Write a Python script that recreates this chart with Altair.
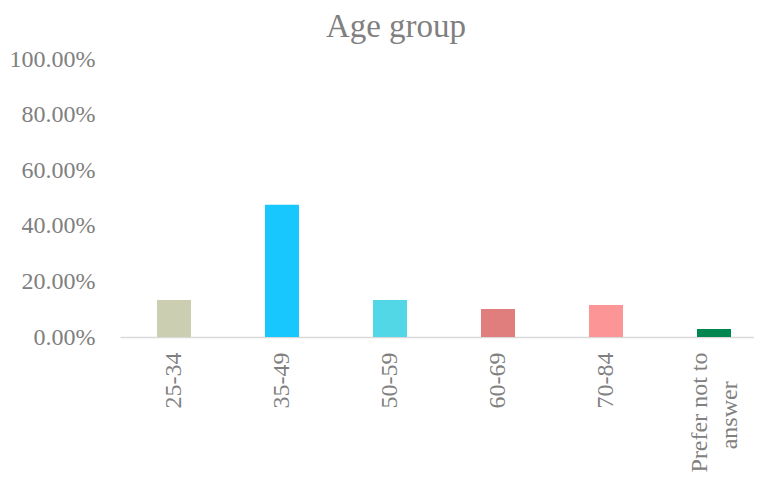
import altair as alt
import pandas as pd

categories = ["25-34", "35-49", "50-59", "60-69", "70-84", "Prefer not to answer"]
values = [0.133, 0.476, 0.133, 0.101, 0.115, 0.029]
colors = ["#CCCEB2", "#19C7FF", "#52D7E6", "#E07E7E", "#FC9696", "#00864E"]

df = pd.DataFrame({"cat": categories, "val": values})

FONT = "Liberation Serif"
GREY = "#808080"
PAD = "\u00a0\u00a0\u00a0\u00a0\u2009\u200b"

chart = alt.Chart(df).mark_bar().encode(
    x=alt.X("cat:N", sort=categories, title=None,
            scale=alt.Scale(paddingInner=0.685, paddingOuter=0.3425, range=[0, 648]),
            axis=alt.Axis(labelAngle=-90, labelFont=FONT, labelFontSize=24,
                          labelColor=GREY, ticks=False, domainColor="#D9D9D9",
                          domainWidth=1.5, labelPadding=15, labelAlign="right",
                          labelBaseline="middle",
                          labelExpr="datum.label == 'Prefer not to answer' ? ['Prefer not to', 'answer" + PAD + "'] : datum.label",
                          labelOffset={"condition": {"test": "datum.value == 'Prefer not to answer'", "value": -14}, "value": 0},
                          labelLineHeight=30)),
    y=alt.Y("val:Q", title=None,
            scale=alt.Scale(domain=[0, 1]),
            axis=alt.Axis(values=[0, 0.2, 0.4, 0.6, 0.8, 1.0], format=".2%",
                          labelFont=FONT, labelFontSize=24, labelColor=GREY,
                          ticks=False, domain=False, grid=False, labelPadding=25)),
    color=alt.Color("cat:N", sort=categories,
                    scale=alt.Scale(domain=categories, range=colors), legend=None),
).properties(
    width=634, height=278,
    title=alt.TitleParams("Age group", font=FONT, fontSize=33, color=GREY,
                          fontWeight="normal", anchor="middle", dx=-41, dy=29,
                          offset=6, baseline="alphabetic"),
    autosize=alt.AutoSizeParams(type="none"),
    padding={"left": 112, "top": 51, "right": 0, "bottom": 140},
).configure_view(stroke=None)

chart.save("out.html", embed_options={"renderer": "svg", "actions": False})
